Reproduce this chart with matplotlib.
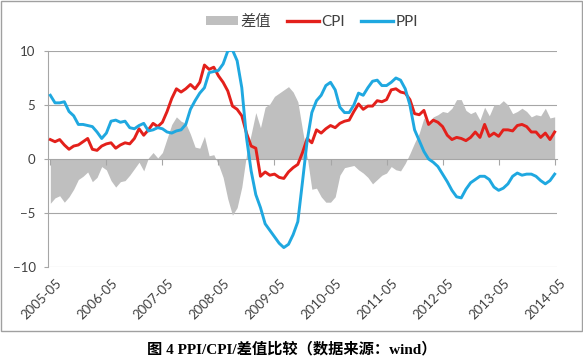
import numpy as np
import pandas as pd
import matplotlib
matplotlib.use("Agg")
import matplotlib.pyplot as plt
from matplotlib.patches import Patch, Rectangle
from matplotlib.lines import Line2D

# monthly, 2005-05 .. 2014-05
months = pd.date_range("2005-05-01", periods=109, freq="MS")

cpi = [1.8, 1.6, 1.8, 1.3, 0.9, 1.2, 1.3, 1.6,
       1.9, 0.9, 0.8, 1.2, 1.4, 1.5, 1.0, 1.3, 1.5, 1.4, 1.9, 2.8,
       2.2, 2.7, 3.3, 3.0, 3.4, 4.4, 5.6, 6.5, 6.2, 6.5, 6.9, 6.5,
       7.1, 8.7, 8.3, 8.5, 7.7, 7.1, 6.3, 4.9, 4.6, 4.0, 2.4, 1.2,
       1.0, -1.6, -1.2, -1.5, -1.4, -1.7, -1.8, -1.2, -0.8, -0.5, 0.6, 1.9,
       1.5, 2.7, 2.4, 2.8, 3.1, 2.9, 3.3, 3.5, 3.6, 4.4, 5.1, 4.6,
       4.9, 4.9, 5.4, 5.3, 5.5, 6.4, 6.5, 6.2, 6.1, 5.5, 4.2, 4.1,
       4.5, 3.2, 3.6, 3.4, 3.0, 2.2, 1.8, 2.0, 1.9, 1.7, 2.0, 2.5,
       2.0, 3.2, 2.1, 2.4, 2.1, 2.7, 2.7, 2.6, 3.1, 3.2, 3.0, 2.5,
       2.5, 2.0, 2.4, 1.8, 2.5]

ppi = [5.9, 5.2, 5.2, 5.3, 4.4, 4.0, 3.2, 3.2,
       3.1, 3.0, 2.5, 1.9, 2.4, 3.5, 3.6, 3.4, 3.5, 2.9, 2.8, 3.1,
       3.3, 2.6, 2.7, 2.9, 2.8, 2.5, 2.4, 2.6, 2.7, 3.2, 4.6, 5.4,
       6.1, 6.6, 8.0, 8.1, 8.2, 8.8, 10.0, 10.1, 9.1, 6.6, 2.0, -1.1,
       -3.3, -4.5, -6.0, -6.6, -7.2, -7.8, -8.2, -7.9, -7.0, -5.8, -2.1, 1.7,
       4.3, 5.4, 5.9, 6.8, 7.1, 6.4, 4.8, 4.3, 4.3, 5.0, 6.1, 5.9,
       6.6, 7.2, 7.3, 6.8, 6.8, 7.1, 7.5, 7.3, 6.5, 5.0, 2.7, 1.7,
       0.7, 0.0, -0.3, -0.7, -1.4, -2.1, -2.9, -3.5, -3.6, -2.8, -2.2, -1.9,
       -1.6, -1.6, -1.9, -2.6, -2.9, -2.7, -2.3, -1.6, -1.3, -1.5, -1.4, -1.4,
       -1.6, -2.0, -2.3, -2.0, -1.4]

diff = [-4.1, -3.6, -3.4, -4.0, -3.5, -2.8, -1.9, -1.6,
        -1.2, -2.1, -1.7, -0.7, -1.0, -2.0, -2.6, -2.1, -2.0, -1.5, -0.9, -0.3,
        -1.1, 0.1, 0.6, 0.1, 0.6, 1.9, 3.2, 3.9, 3.5, 3.3, 2.3, 1.1,
        1.0, 2.1, 0.3, 0.4, -0.5, -1.7, -3.7, -5.2, -4.5, -2.6, 0.4, 2.3,
        4.3, 2.9, 4.8, 5.1, 5.8, 6.1, 6.4, 6.7, 6.2, 5.3, 2.7, 0.2,
        -2.8, -2.7, -3.5, -4.0, -4.0, -3.5, -1.5, -0.8, -0.7, -0.6, -1.0, -1.3,
        -1.7, -2.3, -1.9, -1.5, -1.3, -0.7, -1.0, -1.1, -0.4, 0.5, 1.5, 2.4,
        3.8, 3.2, 3.9, 4.1, 4.4, 4.3, 4.7, 5.5, 5.5, 4.5, 4.2, 4.4,
        3.6, 4.8, 4.0, 5.0, 5.0, 5.4, 5.0, 4.2, 4.4, 4.7, 4.4, 3.9,
        4.1, 4.0, 4.7, 3.8, 3.9]

tick_labels = ["2005-05", "2006-05", "2007-05", "2008-05", "2009-05",
               "2010-05", "2011-05", "2012-05", "2013-05", "2014-05"]

red = "#e3201b"
blue = "#1fa8e0"
grey = "#bfbfbf"
grid = "#a6a6a6"
font = ["Lato", "Noto Sans CJK SC"]

fig = plt.figure(figsize=(5.83, 3.6), dpi=100)
ax = fig.add_axes([48 / 583, 1 - 267 / 360, 509 / 583, 216 / 360])

x = np.arange(len(months))
ax.fill_between(x, 0, diff, color=grey, linewidth=0, zorder=1)
ax.plot(x, cpi, color=red, lw=2.1, zorder=3)
ax.plot(x, ppi, color=blue, lw=2.1, zorder=3)

ax.set_xlim(-0.5, len(months) - 0.5)
ax.set_ylim(-10, 10)
ax.set_yticks([-10, -5, 0, 5, 10])
for v in [-10, -5, 5, 10]:
    ax.axhline(v, color=grid, lw=0.8, zorder=0)

for s in ["top", "right"]:
    ax.spines[s].set_visible(False)
ax.spines["left"].set_color(grid)
ax.spines["left"].set_linewidth(0.8)
ax.spines["bottom"].set_position(("data", 0))
ax.spines["bottom"].set_color(grid)
ax.spines["bottom"].set_linewidth(0.8)
ax.spines["bottom"].set_zorder(2)

yr_idx = np.arange(0, len(months), 12)
ax.set_xticks(yr_idx)
ax.set_xticklabels([])
ax.tick_params(axis="x", direction="out", length=4, color=grid, width=0.8)
ax.tick_params(axis="y", direction="out", length=3, color=grid, width=0.8,
               labelsize=9.5, labelcolor="#404040", pad=6)
for lab in ax.get_yticklabels():
    lab.set_family(font)

trans = ax.get_xaxis_transform()
for i, t in zip(yr_idx, tick_labels):
    ax.text(i + 1.0, -0.045, t, transform=trans, rotation=45,
            rotation_mode="anchor", ha="right", va="top",
            fontsize=9.5, color="#404040", family=font)

handles = [Patch(facecolor=grey, edgecolor="none"),
           Line2D([], [], color=red, lw=2.4),
           Line2D([], [], color=blue, lw=2.4)]
fig.legend(handles, ["差值", "CPI", "PPI"], loc="center", ncol=3,
           bbox_to_anchor=(0.535, 1 - 22 / 360), frameon=False,
           prop={"family": font, "size": 11}, handlelength=2.1,
           handleheight=0.6, columnspacing=1.0, handletextpad=0.2,
           labelcolor="#404040")

fig.patches.append(Rectangle((1 / 583, 1 - 331 / 360), 581 / 583, 330 / 360,
                             transform=fig.transFigure, fill=False,
                             edgecolor="#a0a0a0", lw=1.0))

fig.text(0.5, 1 - 349 / 360, "图 4 PPI/CPI/差值比较（数据来源：wind）",
         ha="center", va="center", fontsize=11, fontweight="bold",
         family=["Liberation Serif", "Noto Sans CJK SC"])

fig.savefig("out.png", dpi=100)
